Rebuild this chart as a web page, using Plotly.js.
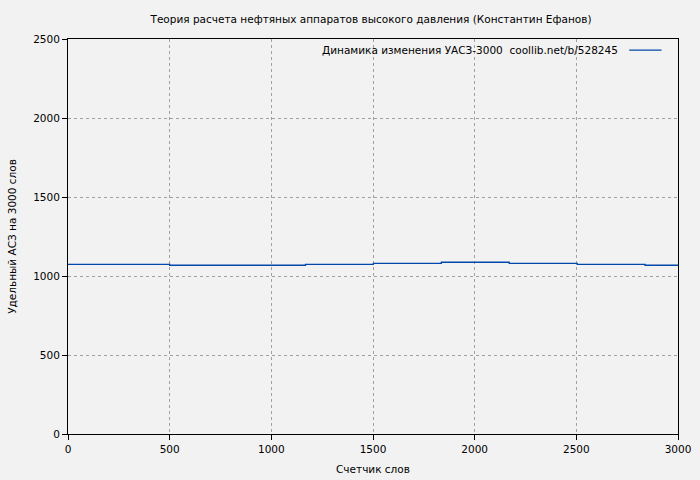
<!DOCTYPE html>
<html>
<head>
<meta charset="utf-8">
<script src="https://cdn.plot.ly/plotly-3.0.1.min.js"></script>
<style>html,body{margin:0;padding:0;background:#f2f2f2;}</style>
</head>
<body>
<div id="chart" style="width:700px;height:480px;"></div>
<script>
const words = [0, 500, 834, 1168, 1502, 1836, 2170, 2504, 2838, 3000];
const uasz = [1074, 1068, 1068, 1074, 1080, 1087, 1080, 1074, 1068, 1068];
const seriesName = "Динамика изменения УАСЗ-3000  coollib.net/b/528245";
const xTicks = [0, 500, 1000, 1500, 2000, 2500, 3000];
const yTicks = [0, 500, 1000, 1500, 2000, 2500];

const lineColor = "#0047ab";
const font = {family: "DejaVu Sans, sans-serif", size: 10.5, color: "#000"};
Plotly.newPlot("chart", [{
  x: words, y: uasz, type: "scatter", mode: "lines",
  line: {shape: "hv", color: lineColor, width: 1.3},
  name: seriesName
}], {
  width: 700, height: 480,
  paper_bgcolor: "#f2f2f2", plot_bgcolor: "#f2f2f2",
  margin: {l: 68, r: 22, t: 39, b: 46},
  font: font,
  title: {text: "Теория расчета нефтяных аппаратов высокого давления (Константин Ефанов)",
          font: font, x: 0.53, xanchor: "center", y: 0.96, yanchor: "middle"},
  showlegend: false,
  annotations: [{text: seriesName, xref: "paper", yref: "paper", x: 0.905, y: 0.972,
                 xanchor: "right", yanchor: "middle", showarrow: false, font: font}],
  shapes: [{type: "line", xref: "paper", yref: "paper", x0: 0.92, x1: 0.973, y0: 0.972, y1: 0.972,
            line: {color: lineColor, width: 1.3}}],
  xaxis: {range: [0, 3000], tickvals: xTicks, ticktext: xTicks.map(String),
          showline: true, mirror: true, linecolor: "#000", linewidth: 1,
          ticks: "outside", ticklen: 5, tickcolor: "#000",
          showgrid: true, gridcolor: "#a0a0a0", griddash: "dot", gridwidth: 1,
          zeroline: false, title: {text: "Счетчик слов", font: font, standoff: 12}},
  yaxis: {range: [0, 2500], tickvals: yTicks, ticktext: yTicks.map(String),
          showline: true, mirror: true, linecolor: "#000", linewidth: 1,
          ticks: "outside", ticklen: 5, tickcolor: "#000",
          showgrid: true, gridcolor: "#a0a0a0", griddash: "dot", gridwidth: 1,
          zeroline: false, title: {text: "Удельный АСЗ на 3000 слов", font: font, standoff: 14}}
}, {displayModeBar: false});
</script>
</body>
</html>
